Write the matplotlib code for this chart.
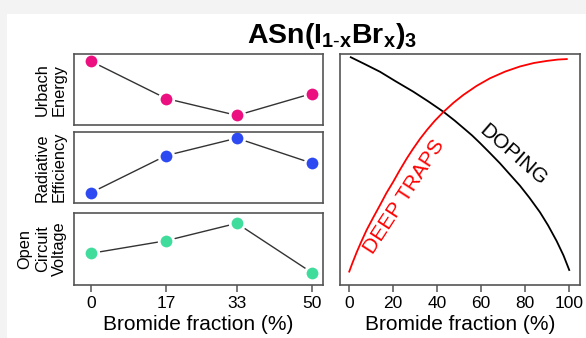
import matplotlib
matplotlib.use("Agg")
import matplotlib.pyplot as plt
from matplotlib.patches import Rectangle

plt.rcParams['font.family'] = ['Liberation Sans', 'DejaVu Sans']
plt.rcParams['mathtext.fontset'] = 'custom'
plt.rcParams['mathtext.rm'] = 'Liberation Sans'
plt.rcParams['mathtext.bf'] = 'Liberation Sans:bold'
plt.rcParams['mathtext.it'] = 'Liberation Sans:italic'

# ---- data ----
bromide_pct = [0, 17, 33, 50]
urbach = [0.898, 0.373, 0.135, 0.443]
radiative = [0.144, 0.663, 0.907, 0.557]
voc = [0.44, 0.615, 0.857, 0.171]

doping_x = [0.8, 7, 14.1, 21, 29.2, 36, 42.9, 48, 52.7, 56, 59.5, 64, 68.6, 73,
            77.7, 82, 86.8, 90.5, 94.4, 97.5, 100.1]
doping_y = [0.986, 0.957, 0.923, 0.883, 0.837, 0.795, 0.750, 0.712, 0.674, 0.647,
            0.615, 0.572, 0.527, 0.480, 0.430, 0.378, 0.315, 0.258, 0.190, 0.128, 0.065]
traps_x = [0.1, 1.5, 3.5, 5.5, 8, 11, 14.1, 17, 20.1, 23, 26.2, 29, 32.3, 35.5, 39,
           42.9, 47.5, 52, 58, 64.1, 71, 77.7, 84, 89.9, 95, 99]
traps_y = [0.058, 0.094, 0.142, 0.186, 0.238, 0.292, 0.346, 0.398, 0.447, 0.496,
           0.547, 0.588, 0.633, 0.672, 0.711, 0.749, 0.789, 0.823, 0.862, 0.895,
           0.924, 0.946, 0.961, 0.970, 0.976, 0.978]

left_ticks = [0, 17, 33, 50]
right_ticks = [0, 20, 40, 60, 80, 100]

W, H = 586, 338
fig = plt.figure(figsize=(W / 100, H / 100), dpi=100)
fig.patch.set_facecolor('#f3f3f3')
fig.patches.append(Rectangle((7 / W, 0), 1, (H - 14) / H, transform=fig.transFigure,
                             facecolor='white', edgecolor='none', zorder=-10))

def px_axes(x0, y0, x1, y1):
    return fig.add_axes([x0 / W, (H - y1) / H, (x1 - x0) / W, (y1 - y0) / H])

spine_col = '#555555'

def style(ax):
    for s in ax.spines.values():
        s.set_color(spine_col)
        s.set_linewidth(1.2)
    ax.set_yticks([])
    ax.tick_params(axis='x', colors=spine_col, length=5, width=1.1, labelcolor='black',
                   labelsize=12.5, pad=3)

panels = [
    (54, 125, urbach, '#ec0f7f', 'Urbach\nEnergy'),
    (131.5, 203, radiative, '#2d4af2', 'Radiative\nEfficiency'),
    (213, 285, voc, '#3fdc9c', 'Open\nCircuit\nVoltage'),
]
for i, (y0, y1, vals, col, lab) in enumerate(panels):
    ax = px_axes(74, y0, 323, y1)
    style(ax)
    ax.plot(bromide_pct, vals, color='#333333', lw=1.0, zorder=1)
    ax.plot(bromide_pct, vals, linestyle='none', marker='o', markersize=10.5,
            markerfacecolor=col, markeredgecolor='white', markeredgewidth=2, zorder=2)
    ax.set_xlim(-3.85, 52.5)
    ax.set_ylim(0, 1)
    ax.set_ylabel(lab, fontsize=11.8, labelpad=5)
    ax.set_xticks(left_ticks)
    if i < 2:
        ax.tick_params(axis='x', length=0, labelbottom=False)
    else:
        ax.set_xlabel('Bromide fraction (%)', fontsize=15, labelpad=3)

axr = px_axes(340, 54, 580, 285)
style(axr)
axr.plot(doping_x, doping_y, color='black', lw=1.3, solid_joinstyle='round')
axr.plot(traps_x, traps_y, color='#ff0000', lw=1.3, solid_joinstyle='round')
axr.set_xlim(-4.1, 105)
axr.set_ylim(0, 1)
axr.set_xticks(right_ticks)
axr.set_xlabel('Bromide fraction (%)', fontsize=15, labelpad=3)
axr.text(25, 0.381, 'DEEP TRAPS', color='#ff0000', fontsize=15, rotation=57,
         ha='center', va='center', rotation_mode='anchor')
axr.text(74.5, 0.563, 'DOPING', color='black', fontsize=15, rotation=-41,
         ha='center', va='center', rotation_mode='anchor')

fig.text(332 / W, (H - 43) / H, r'$\mathbf{ASn(I_{1\text{-}x}Br_{x})_{3}}$',
         fontsize=20.5, ha='center', va='baseline')

fig.savefig('out.png', dpi=100, facecolor=fig.get_facecolor())
